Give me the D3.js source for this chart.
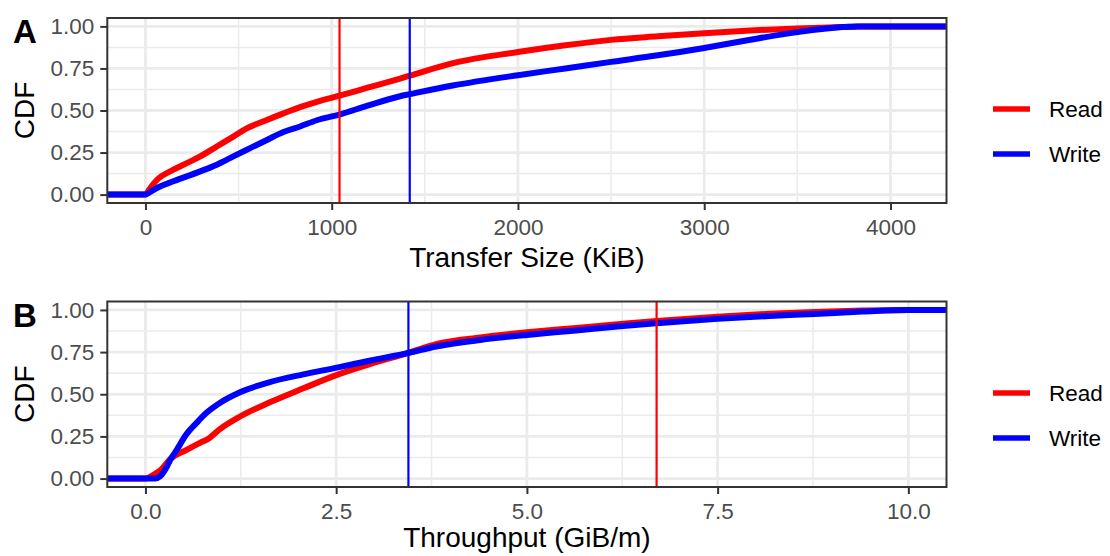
<!DOCTYPE html>
<html>
<head>
<meta charset="utf-8">
<script src="https://cdn.jsdelivr.net/npm/d3@7/dist/d3.min.js"></script>
<style>
  html, body { margin: 0; padding: 0; background: #fff; }
  svg { display: block; font-family: "Liberation Sans", Arial, Helvetica, sans-serif; }
</style>
</head>
<body>
<svg id="chart" width="1110" height="556"></svg>
<script>
// ---- Panel A: transfer size (KiB) ----
const sizeReadX   = [0, 20, 60, 150, 222, 294, 383, 472, 544, 652, 741, 830, 920, 1042, 1188, 1367, 1419, 1657, 2000, 2254, 2500, 2751, 3000, 3248, 3500, 3740, 3840, 4096];
const sizeReadCdf = [0, 0.03, 0.085, 0.148, 0.187, 0.227, 0.286, 0.345, 0.394, 0.444, 0.483, 0.52, 0.552, 0.588, 0.634, 0.69, 0.707, 0.783, 0.848, 0.888, 0.92, 0.941, 0.96, 0.976, 0.988, 0.996, 1.0, 1.0];
const sizeWriteX   = [0, 20, 61, 150, 294, 383, 472, 562, 652, 741, 830, 920, 1042, 1188, 1367, 1419, 1657, 2000, 2254, 2500, 2751, 3000, 3248, 3500, 3740, 3820, 4096];
const sizeWriteCdf = [0, 0.012, 0.039, 0.079, 0.138, 0.178, 0.227, 0.276, 0.325, 0.372, 0.405, 0.442, 0.476, 0.527, 0.585, 0.597, 0.65, 0.71, 0.75, 0.789, 0.828, 0.872, 0.921, 0.966, 0.996, 1.0, 1.0];
const sizeMeans = [1042, 1419];          // Read, Write
const sizeTicks = [0, 1000, 2000, 3000, 4000];
const sizeMinor = [500, 1500, 2500, 3500];

// ---- Panel B: throughput (GiB/m) ----
const tputReadX   = [0, 0.105, 0.2, 0.324, 0.54, 0.72, 0.83, 0.98, 1.24, 1.63, 2.07, 2.51, 2.95, 3.447, 3.81, 4.39, 5.0, 5.61, 6.26, 6.7, 7.5, 8.18, 8.77, 9.4, 10.0];
const tputReadCdf = [0, 0.022, 0.05, 0.115, 0.17, 0.213, 0.238, 0.295, 0.368, 0.452, 0.535, 0.615, 0.68, 0.745, 0.797, 0.837, 0.867, 0.892, 0.918, 0.934, 0.96, 0.977, 0.988, 0.996, 1.0];
const tputWriteX   = [0, 0.127, 0.19, 0.28, 0.324, 0.41, 0.54, 0.67, 0.8, 0.98, 1.24, 1.63, 2.07, 2.51, 2.95, 3.447, 3.81, 4.39, 5.0, 5.61, 6.26, 6.7, 7.5, 8.18, 8.77, 9.4, 10.0];
const tputWriteCdf = [0, 0, 0.012, 0.07, 0.11, 0.17, 0.265, 0.33, 0.39, 0.45, 0.512, 0.572, 0.618, 0.658, 0.7, 0.745, 0.783, 0.822, 0.852, 0.877, 0.905, 0.921, 0.947, 0.964, 0.976, 0.99, 1.0];
const tputMeans = [6.70, 3.447];        // Read, Write
const tputTicks = [0, 2.5, 5, 7.5, 10];
const tputMinor = [1.25, 3.75, 6.25, 8.75];

const cdfTicks = [0, 0.25, 0.5, 0.75, 1];
const cdfMinor = [0.125, 0.375, 0.625, 0.875];
const seriesNames = ["Read", "Write"];
const seriesColors = ["#FF0000", "#0000FF"];

const svg = d3.select("#chart");
const plotLeft = 107.3, plotRight = 946.5;

function panel(opts) {
  const x = d3.scaleLinear().domain(opts.xDomain).range([plotLeft, plotRight]);
  const y = d3.scaleLinear().domain([-0.05, 1.05]).range([opts.bottom, opts.top]);
  const g = svg.append("g");

  // background grid
  g.selectAll(".xminor").data(opts.xMinor).join("line")
    .attr("x1", d => x(d)).attr("x2", d => x(d))
    .attr("y1", opts.top).attr("y2", opts.bottom)
    .attr("stroke", "#EBEBEB").attr("stroke-width", 1.5);
  g.selectAll(".yminor").data(cdfMinor).join("line")
    .attr("x1", plotLeft).attr("x2", plotRight)
    .attr("y1", d => y(d)).attr("y2", d => y(d))
    .attr("stroke", "#EBEBEB").attr("stroke-width", 1.5);
  g.selectAll(".xmajor").data(opts.xTicks).join("line")
    .attr("x1", d => x(d)).attr("x2", d => x(d))
    .attr("y1", opts.top).attr("y2", opts.bottom)
    .attr("stroke", "#EBEBEB").attr("stroke-width", 2.8);
  g.selectAll(".ymajor").data(cdfTicks).join("line")
    .attr("x1", plotLeft).attr("x2", plotRight)
    .attr("y1", d => y(d)).attr("y2", d => y(d))
    .attr("stroke", "#EBEBEB").attr("stroke-width", 2.8);

  // empirical CDF lines, padded out to the panel edges
  const line = d3.line().x(d => x(d[0])).y(d => y(d[1])).curve(d3.curveMonotoneX);
  const clipId = "clip" + opts.id;
  svg.append("clipPath").attr("id", clipId).append("rect")
    .attr("x", plotLeft).attr("y", opts.top)
    .attr("width", plotRight - plotLeft).attr("height", opts.bottom - opts.top);
  const dom = x.domain();
  opts.series.forEach((s, i) => {
    const pts = [[dom[0], 0]].concat(s.xs.map((v, k) => [v, s.cdf[k]])).concat([[dom[1], 1]]);
    g.append("path").datum(pts)
      .attr("clip-path", `url(#${clipId})`)
      .attr("fill", "none")
      .attr("stroke", seriesColors[i])
      .attr("stroke-width", 6)
      .attr("stroke-linejoin", "round")
      .attr("d", line);
  });

  // mean lines
  g.selectAll(".mean").data(opts.means).join("line")
    .attr("x1", d => x(d)).attr("x2", d => x(d))
    .attr("y1", opts.top).attr("y2", opts.bottom)
    .attr("stroke", (d, i) => seriesColors[i]).attr("stroke-width", 2.2);

  // border
  g.append("rect")
    .attr("x", plotLeft).attr("y", opts.top)
    .attr("width", plotRight - plotLeft).attr("height", opts.bottom - opts.top)
    .attr("fill", "none").attr("stroke", "#333333").attr("stroke-width", 2);

  // x axis
  const xa = g.append("g").attr("transform", `translate(0,${opts.bottom})`)
    .call(d3.axisBottom(x).tickValues(opts.xTicks).tickSize(7).tickPadding(9)
      .tickFormat(opts.xFormat));
  xa.select(".domain").remove();
  xa.selectAll(".tick line").attr("stroke", "#333333").attr("stroke-width", 2);
  xa.selectAll(".tick text").attr("fill", "#4D4D4D").attr("font-size", "22.5px")
    .attr("font-family", "Liberation Sans, Arial, sans-serif");

  // y axis
  const ya = g.append("g").attr("transform", `translate(${plotLeft},0)`)
    .call(d3.axisLeft(y).tickValues(cdfTicks).tickSize(7).tickPadding(6)
      .tickFormat(d3.format(".2f")));
  ya.select(".domain").remove();
  ya.selectAll(".tick line").attr("stroke", "#333333").attr("stroke-width", 2);
  ya.selectAll(".tick text").attr("fill", "#4D4D4D").attr("font-size", "22.5px")
    .attr("font-family", "Liberation Sans, Arial, sans-serif");

  // titles
  g.append("text").attr("x", (plotLeft + plotRight) / 2).attr("y", opts.titleY)
    .attr("text-anchor", "middle").attr("font-size", "28px").attr("fill", "#000")
    .text(opts.xTitle);
  g.append("text")
    .attr("transform", `translate(34,${(opts.top + opts.bottom) / 2}) rotate(-90)`)
    .attr("text-anchor", "middle").attr("font-size", "28px").attr("fill", "#000")
    .text("CDF");
  g.append("text").attr("x", 13).attr("y", opts.top + 25)
    .attr("font-size", "33px").attr("font-weight", "bold").attr("fill", "#000")
    .text(opts.tag);

  // legend
  const lg = g.append("g");
  seriesNames.forEach((name, i) => {
    const ly = opts.legendY + i * 45;
    lg.append("line").attr("x1", 993).attr("x2", 1030).attr("y1", ly).attr("y2", ly)
      .attr("stroke", seriesColors[i]).attr("stroke-width", 5.5);
    lg.append("text").attr("x", 1049).attr("y", ly).attr("dy", "0.35em")
      .attr("font-size", "22.5px").attr("fill", "#000").text(name);
  });
}

panel({
  id: "A", tag: "A", top: 18, bottom: 203, titleY: 266.5,
  xDomain: [-204.8, 4300.8], xTicks: sizeTicks, xMinor: sizeMinor,
  xFormat: d3.format("d"), xTitle: "Transfer Size (KiB)",
  means: sizeMeans,
  series: [{xs: sizeReadX, cdf: sizeReadCdf}, {xs: sizeWriteX, cdf: sizeWriteCdf}],
  legendY: 109
});
panel({
  id: "B", tag: "B", top: 301.5, bottom: 487, titleY: 546.5,
  xDomain: [-0.5, 10.5], xTicks: tputTicks, xMinor: tputMinor,
  xFormat: d3.format(".1f"), xTitle: "Throughput (GiB/m)",
  means: tputMeans,
  series: [{xs: tputReadX, cdf: tputReadCdf}, {xs: tputWriteX, cdf: tputWriteCdf}],
  legendY: 393
});
</script>
</body>
</html>
